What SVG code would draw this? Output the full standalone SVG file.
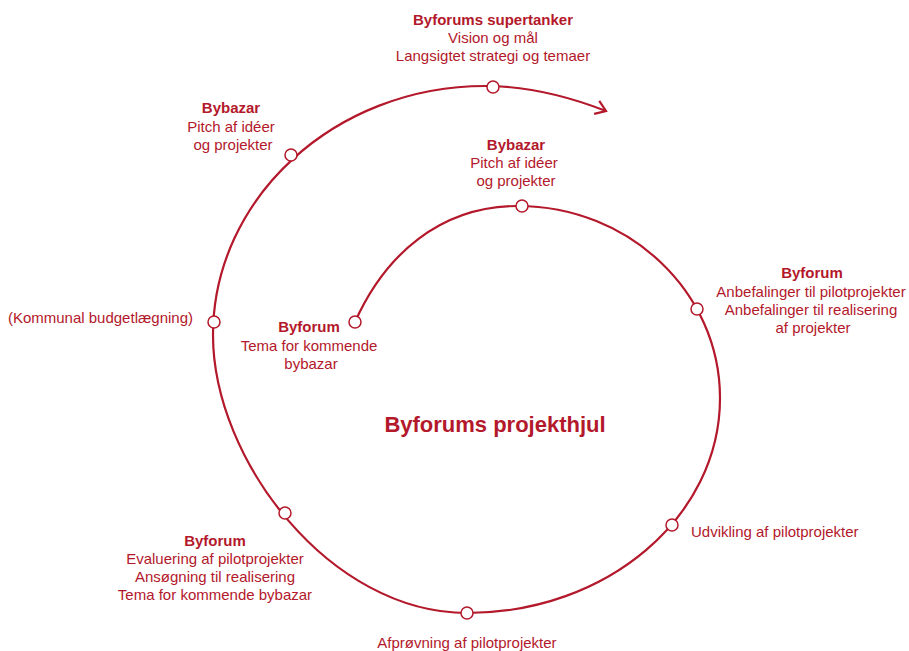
<svg xmlns="http://www.w3.org/2000/svg" width="909" height="651" viewBox="0 0 909 651">
<defs>
<style>
.lbl{font-family:"Liberation Sans","DejaVu Sans",sans-serif;font-size:15px;fill:#b3182b;text-anchor:middle}
.b{font-weight:bold}
.title{font-family:"Liberation Sans","DejaVu Sans",sans-serif;font-size:22px;font-weight:bold;fill:#b3182b;text-anchor:middle}
.dot{fill:#fff;stroke:#b3182b;stroke-width:1.5}
.line{fill:none;stroke:#b3182b;stroke-width:2.2}
</style>
<marker id="arr" viewBox="-12 -8 14 16" markerWidth="14" markerHeight="16" refX="0" refY="0" orient="auto" markerUnits="userSpaceOnUse">
<path d="M-10,-7 L0,0 L-10,7" fill="none" stroke="#b3182b" stroke-width="2.2"/>
</marker>
</defs>
<rect width="909" height="651" fill="#fff"/>
<g id="connectors">
<path class="line" marker-end="url(#arr)" d="M355,322 C385,255 440,206 518,206 C629,206 720,292 720,398 C720,517 607,613 467,613 C330,613 213,460 213,335 C213,198 335,86 485,86 C530,86 570,97 606,111"/>
</g>
<g id="n-supertanker">
<circle class="dot" cx="493" cy="87" r="6"/>
<text class="lbl" x="493" y="25"><tspan class="b">Byforums supertanker</tspan><tspan x="493" y="43">Vision og mål</tspan><tspan x="493" y="61">Langsigtet strategi og temaer</tspan></text>
</g>
<g id="n-bybazar-outer">
<circle class="dot" cx="291" cy="155" r="6"/>
<text class="lbl" x="231" y="113"><tspan class="b">Bybazar</tspan><tspan x="231" y="132">Pitch af idéer</tspan><tspan x="233" y="150">og projekter</tspan></text>
</g>
<g id="n-bybazar-inner">
<circle class="dot" cx="522" cy="206" r="6"/>
<text class="lbl" x="516" y="150"><tspan class="b">Bybazar</tspan><tspan x="514" y="168">Pitch af idéer</tspan><tspan x="516" y="186">og projekter</tspan></text>
</g>
<g id="n-byforum-right">
<circle class="dot" cx="697" cy="309" r="6"/>
<text class="lbl" x="812" y="278"><tspan class="b">Byforum</tspan><tspan x="811" y="297">Anbefalinger til pilotprojekter</tspan><tspan x="811" y="315">Anbefalinger til realisering</tspan><tspan x="813" y="333">af projekter</tspan></text>
</g>
<g id="n-kommunal">
<circle class="dot" cx="214" cy="322" r="6"/>
<text class="lbl" x="193" y="323" style="text-anchor:end">(Kommunal budgetlægning)</text>
</g>
<g id="n-byforum-inner">
<circle class="dot" cx="355" cy="322" r="6"/>
<text class="lbl" x="309" y="332"><tspan class="b">Byforum</tspan><tspan x="309" y="351">Tema for kommende</tspan><tspan x="311" y="369">bybazar</tspan></text>
</g>
<g id="n-udvikling">
<circle class="dot" cx="672" cy="525" r="6"/>
<text class="lbl" x="691" y="537" style="text-anchor:start">Udvikling af pilotprojekter</text>
</g>
<g id="n-afproevning">
<circle class="dot" cx="467" cy="613" r="6"/>
<text class="lbl" x="467" y="648">Afprøvning af pilotprojekter</text>
</g>
<g id="n-byforum-eval">
<circle class="dot" cx="285" cy="513" r="6"/>
<text class="lbl" x="215" y="546"><tspan class="b">Byforum</tspan><tspan x="215" y="564">Evaluering af pilotprojekter</tspan><tspan x="215" y="582">Ansøgning til realisering</tspan><tspan x="215" y="600">Tema for kommende bybazar</tspan></text>
</g>
<g id="title">
<text class="title" x="495" y="432">Byforums projekthjul</text>
</g>
</svg>
